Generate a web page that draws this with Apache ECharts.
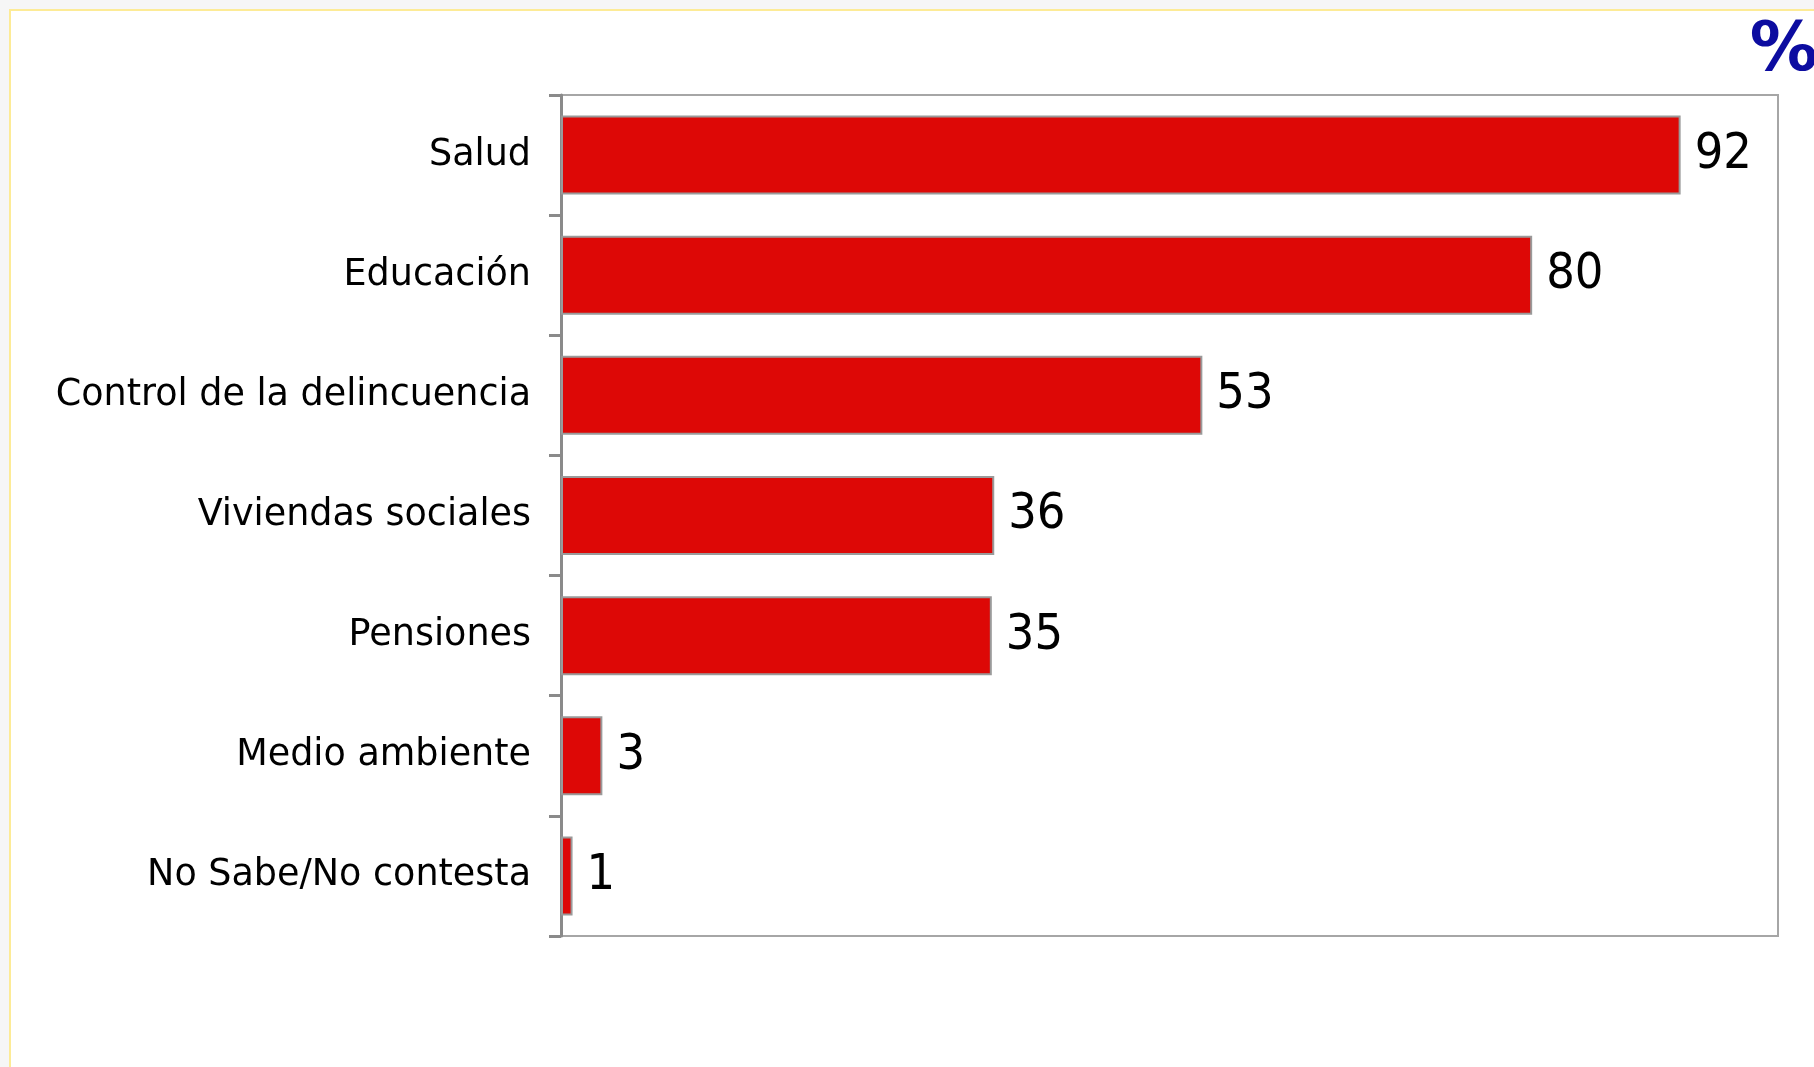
<!DOCTYPE html>
<html>
<head>
<meta charset="utf-8">
<script src="https://cdn.jsdelivr.net/npm/echarts@6/dist/echarts.min.js"></script>
<style>
  html, body { margin: 0; padding: 0; background: #f6f6f6; }
  #panel { position: absolute; left: 9px; top: 9px; width: 1820px; height: 1080px; background: #ffffff; border: 2px solid #fdeb96; box-sizing: border-box; }
  #chart { position: absolute; left: 0; top: 0; width: 1814px; height: 1067px; }
</style>
</head>
<body>
<div id="panel"></div>
<div id="chart"></div>
<script>
const categories = ["Salud", "Educación", "Control de la delincuencia", "Viviendas sociales", "Pensiones", "Medio ambiente", "No Sabe/No contesta"];
const values = [92, 79.8, 52.7, 35.6, 35.4, 3.4, 0.95];
const unitLabel = "%";

const chart = echarts.init(document.getElementById('chart'), null, { renderer: 'canvas' });
chart.setOption({
  backgroundColor: 'transparent',
  animation: false,
  graphic: [{
    type: 'text', right: -4, top: 18,
    style: { text: unitLabel, fill: '#0c0ca0', font: 'bold 68px "DejaVu Sans"' }
  }],
  grid: { left: 561, top: 95, width: 1217, height: 841, containLabel: false, show: true, borderColor: '#a6a6a6', borderWidth: 2, backgroundColor: 'transparent' },
  xAxis: { type: 'value', min: 0, max: 100, axisLabel: { show: false }, splitLine: { show: false }, axisLine: { show: false }, axisTick: { show: false } },
  yAxis: {
    type: 'category', inverse: true, data: categories,
    axisLine: { show: true, lineStyle: { color: '#8a8a8a', width: 3 } },
    axisTick: { show: true, length: 12, lineStyle: { color: '#8a8a8a', width: 3 } },
    axisLabel: { margin: 30, color: '#000', fontSize: 36.5, padding: [4, 0, 0, 0], fontFamily: '"DejaVu Sans", sans-serif' }
  },
  series: [{
    type: 'bar', data: values, barWidth: 79,
    itemStyle: { color: '#dd0806', borderColor: '#9a9a9a', borderWidth: 2 },
    label: { show: true, position: 'right', distance: 14, color: '#000', fontSize: 50,
      formatter: p => String(Math.round(p.value)),
      fontFamily: '"DejaVu Sans Condensed", sans-serif' }
  }]
});
</script>
</body>
</html>
